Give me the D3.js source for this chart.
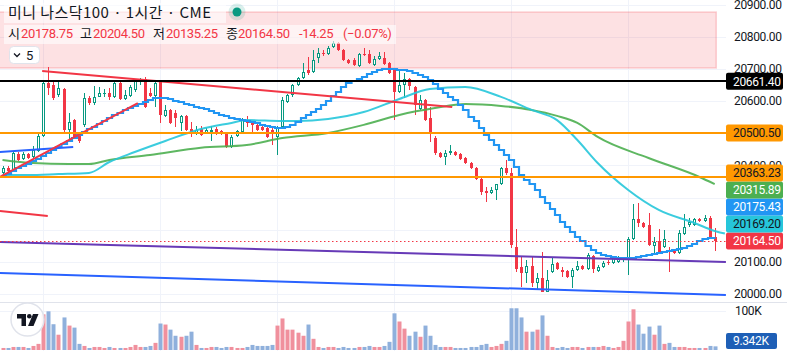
<!DOCTYPE html>
<html><head><meta charset="utf-8">
<script src="https://cdn.jsdelivr.net/npm/d3@7/dist/d3.min.js"></script>
<style>
html,body{margin:0;padding:0;background:#fff;}
svg{display:block;}
</style></head>
<body><div id="chart"></div>
<script>
// ---------------- DATA ----------------
const opens = [20376.5,20392,20382.5,20435.5,20420,20435.5,20426,20444.75,20491.5,20656.25,
20650,20619,20637.5,20510,20541.25,20491.5,20525.75,20609.5,20594,20612.75,
20622,20625.25,20612.75,20656.25,20606.5,20615.75,20634.5,20659.5,20668.75,20625.25,
20615.75,20659.5,20553.5,20572.25,20563,20531.75,20553.5,20513.25,20500.75,20513.25,
20500.75,20504,20513.25,20507,20500.75,20457.25,20491.5,20504,20541.25,20535,
20525.75,20519.5,20516.25,20510,20488.25,20519.5,20597.25,20619,20650,20671.75,
20696.75,20690.5,20734,20749.5,20746.5,20768.25,20780.75,20759,20727.75,20727.75,
20709.25,20746.5,20746.5,20712.25,20731,20734,20718.5,20699.75,20628.25,20650,
20668.75,20644,20575.5,20603.5,20547.5,20485.25,20438.5,20426,20438.5,20441.75,
20435.5,20423,20407.5,20392,20357.75,20320.5,20314.25,20323.5,20342.25,20392,
20376.5,20146.25,20084,20065.5,20087,20034.25,20049.75,20006.25,20068.5,20096.5,
20074.75,20071.5,20053,20074.75,20087,20077.75,20118.25,20071.5,20084,20099.5,
20096.5,20099.5,20105.75,20105.75,20171,20233.25,20221,20214.75,20149.5,20165,
20146.25,20133.75,20137,20127.5,20186.75,20214.75,20214.75,20233.25,20227,20236.5,
20178.75];
const highs = [20398,20398,20444.75,20441.75,20441.75,20438.5,20460.25,20497.75,20659.5,20706,
20659.5,20665.5,20640.75,20563,20544.25,20494.5,20625.25,20615.75,20647,20644,
20637.5,20640.75,20659.5,20659.5,20634.5,20650,20668.75,20671.75,20675,20640.75,
20659.5,20662.5,20588,20575.5,20572.25,20556.75,20556.75,20535,20522.5,20522.5,
20516.25,20522.5,20519.5,20510,20504,20494.5,20510,20547.5,20553.5,20538,
20528.75,20525.75,20519.5,20516.25,20522.5,20612.75,20622,20653.25,20675,20718.5,
20737,20759,20765,20759,20771.25,20787,20783.75,20762,20731,20734,
20749.5,20765,20759,20740.25,20752.75,20752.75,20721.5,20703,20699.75,20687.5,
20671.75,20647,20619,20606.5,20581.5,20491.5,20441.75,20448,20463.5,20444.75,
20438.5,20426,20410.5,20395,20360.75,20332.75,20332.75,20342.25,20395,20416.75,
20392,20202.25,20115,20105.75,20115,20065.5,20130.75,20074.75,20112,20099.5,
20084,20074.75,20081,20102.75,20090.25,20127.5,20121.25,20090.25,20102.75,20105.75,
20118.25,20118.25,20115,20177.25,20280,20283,20224,20252,20177.25,20202.25,
20199,20146.25,20140,20199,20249,20236.5,20236.5,20236.5,20245.75,20242.75,
20204.5];
const lows = [20370,20379.5,20380,20413.75,20416.75,20420,20423,20441.75,20488.25,20619,
20603.5,20612.75,20504,20479,20482,20469.75,20519.5,20588,20588,20612.75,
20612.75,20603.5,20609.5,20603.5,20603.5,20612.75,20628.25,20650,20578.5,20612.75,
20581.5,20531.75,20550.5,20528.75,20519.5,20507,20507,20488.25,20494.5,20491.5,
20497.75,20476,20494.5,20494.5,20454,20454,20488.25,20500.75,20519.5,20500.75,
20507,20507,20485.25,20463.5,20432.5,20516.25,20594,20612.75,20647,20668.75,
20681.25,20687.5,20718.5,20740.25,20743.5,20765,20755.75,20724.75,20715.5,20709.25,
20706,20740.25,20715.5,20709.25,20727.75,20712.25,20684.25,20541.25,20625.25,20609.5,
20634.5,20556.75,20572.25,20538,20472.75,20432.5,20423,20401.25,20432.5,20429.25,
20416.75,20404.5,20388.75,20354.5,20308,20286.25,20311,20292.5,20339,20370.25,
20143.25,20068.5,20021.75,20034.25,20021.75,20012.5,20005,20005,20065.5,20074.75,
20053,20049.75,20018.75,20071.5,20074.75,20074.75,20065.5,20068.5,20081,20090.25,
20093.5,20096.5,20099.5,20059.25,20168,20208.5,20205.25,20149.5,20127.5,20124.5,
20143.25,20068.5,20124.5,20124.5,20183.5,20208.5,20211.5,20224,20224,20174.25,
20135.25];
const closes = [20392,20382.5,20438.5,20416.75,20435.5,20423,20448,20491.5,20656.25,20640.75,
20609.5,20640.75,20510,20535,20488.25,20476,20609.5,20594,20612.75,20625.25,
20625.25,20612.75,20656.25,20606.5,20619,20644,20665.5,20668.75,20581.5,20615.75,
20656.25,20556.75,20572.25,20531.75,20547.5,20553.5,20510,20504,20510,20494.5,
20510,20510,20504,20500.75,20457.25,20488.25,20507,20541.25,20531.75,20525.75,
20510,20510,20488.25,20500.75,20519.5,20603.5,20619,20650,20671.75,20690.5,
20687.5,20727.75,20749.5,20746.5,20765,20780.75,20759,20727.75,20718.5,20712.25,
20746.5,20743.5,20718.5,20731,20740.25,20715.5,20687.5,20628.25,20650,20668.75,
20647,20588,20603.5,20541.25,20504,20438.5,20426,20438.5,20444.75,20432.5,
20420,20407.5,20392,20357.75,20317.25,20314.25,20323.5,20342.25,20392,20376.5,
20152.5,20077.75,20065.5,20087,20034.25,20049.75,20006.25,20043.5,20093.5,20077.75,
20068.5,20053,20074.75,20087,20077.75,20121.25,20077.75,20084,20096.5,20096.5,
20112,20112,20112,20171,20233.25,20221,20208.5,20152.5,20161.75,20127.5,
20171,20130.75,20127.5,20189.75,20208.5,20224,20233.25,20227,20236.5,20178.75,
20164.5];
// volume in thousands
const volumes = [5.2,5.2,7.8,7.8,7.8,5.2,10.4,15.7,91.4,99.2,
66.1,39.2,83.5,62.6,57.4,15.7,10.4,5.2,7.8,7.8,
5.2,7.8,5.2,5.2,5.2,7.8,13,7.8,7.8,10.4,
18.3,67.9,65.3,52.2,36.5,33.9,36.5,47,13,5.2,
5.2,7.8,7.8,5.2,7.8,7.8,5.2,5.2,7.8,13,
10.4,10.4,10.4,13,62.6,80.9,52.2,52.2,44.4,36.5,
65.3,28.7,7.8,5.2,7.8,7.8,5.2,7.8,5.2,5.2,
7.8,7.8,10.4,7.8,7.8,10.4,20.9,94,73.1,54.8,
36.5,47,33.9,62.6,36.5,13,7.8,7.8,7.8,5.2,
5.2,5.2,7.8,7.8,13,15.7,7.8,10.4,15.7,23.5,
107,107,83.5,47,47,52.2,88.7,36.5,7.8,5.2,
7.8,5.2,7.8,7.8,5.2,7.8,7.8,7.8,10.4,7.8,
5.2,7.8,23.5,73.1,104.4,65.3,41.8,60,39.2,62.6,
15.7,18.3,7.8,7.8,7.8,5.2,5.2,5.2,5.2,10.4,
9.342];
// stepped indicator (blue)
const stepLine = [20367,20373,20382.5,20392,20398,20404.5,20413.5,20420,20429,20438.5,
20448,20457,20466.5,20476,20485,20494.5,20504,20513,20519.5,20529,
20538,20547.5,20557,20563,20572.5,20578.5,20585,20591,20597,20603.5,
20609.5,20609.5,20609.5,20606.5,20600.5,20597,20591,20588,20581.5,20578.5,
20575.5,20569.5,20563,20557,20554,20547.5,20544.5,20541,20538,20535,
20532,20525.5,20522.5,20519.5,20516.5,20516.5,20519.5,20525.5,20535,20547.5,
20557,20566,20575.5,20588,20600.5,20616,20628.5,20644,20656.5,20662.5,
20668.5,20675,20684.5,20690.5,20696.5,20699.5,20699.5,20699.5,20696.5,20696.5,
20693.5,20687.5,20681,20675,20665.5,20653,20637.5,20625,20612.5,20603.5,
20588,20572.5,20550.5,20538,20516.5,20494.5,20479,20463.5,20448,20432.5,
20417,20395,20370,20354.5,20342,20323.5,20301.5,20283,20264.5,20245.5,
20224,20208.5,20193,20177.5,20165,20149.5,20137,20127.5,20121.5,20118.5,
20115,20112,20112,20112,20112,20115,20118.5,20121.5,20124.5,20127.5,
20130.5,20134,20137,20140,20143,20149.5,20155.5,20165,20171,20174,
20175.43];
// moving averages (sampled at candle index)
const cyanIdx = [0,5,11,17,21,26,32,39,45,48,55,58,64,71,78,84,91,98,104,109,113,117,123,129,136,140,142];
const cyanVal = [20370,20370,20373,20376.5,20410.5,20441.5,20476,20513,20532,20541,20538,20538,20544.5,20566,20606.5,20637.5,20644,20613,20572.5,20541,20479,20407.5,20323.5,20261.5,20221,20196,20188];
const greenIdx = [0,6,13,17,21,29,39,48,55,64,71,78,85,91,98,104,109,113,117,127,137,140];
const greenVal = [20417,20407.5,20404.5,20404.5,20417,20432.5,20455,20463.5,20485,20501,20526,20557,20578.5,20591,20585,20572.5,20554,20532,20488.5,20423,20364,20342];
// drawings: [startIndex, startPrice, endIndex, endPrice]
const redShortLine = [-0.5,20258.2,8.9,20242.6];
const redLongLine = [7.8,20693.6,88.4,20581.6];
const redRiseLine = [-0.5,20364,26.6,20594];
const blueShortLine = [-0.5,20441.7,13.9,20457.2];
const purpleLine = [-0.5,20161.8,142.2,20099.6];
const blueLongLine = [-0.5,20065.5,142.2,19997];
const zoneRect = [-1,20877,140.3,20703];
const levelBlack = 20661.40;
const levelOrange = [20500.50,20363.23];
const lastValues = {green:20315.89, step:20175.43, cyan:20169.20, close:20164.50};
const lastVolume = 9.342;
const dayStarts = [8,31,54,77,100,123];
const priceTicks = [20000,20100,20200,20300,20400,20500,20600,20700,20800,20900];
const volTicks = [100];

// ---------------- LAYOUT ----------------
const W=787,H=351, plotR=726, paneSep=302;
const UP='#089981', DN='#f23645', TXT='#131722', GRID='#f0f3fa';
const x=d3.scaleLinear().domain([0,140]).range([2.5,714.7]);
const y=d3.scaleLinear().domain([20000,20900]).range([294,4.65]);
const yv=d3.scaleLinear().domain([0,100]).range([350,311]);
const axisFont="Roboto, 'Liberation Sans', sans-serif";
const krFont="'Noto Sans CJK KR', 'Noto Sans', sans-serif";

const svg=d3.select('#chart').append('svg').attr('width',W).attr('height',H)
  .style('background','#fff');
const defs=svg.append('defs');
defs.append('clipPath').attr('id','pc').append('rect').attr('x',0).attr('y',0).attr('width',plotR).attr('height',paneSep);
defs.append('clipPath').attr('id','vc').append('rect').attr('x',0).attr('y',paneSep+1).attr('width',plotR).attr('height',H-paneSep);

// grid
const g0=svg.append('g');
g0.selectAll('line.h').data(priceTicks).join('line')
  .attr('x1',0).attr('x2',plotR).attr('y1',d=>Math.round(y(d))+0.5).attr('y2',d=>Math.round(y(d))+0.5)
  .attr('stroke',GRID).attr('stroke-width',1);
g0.selectAll('line.v').data(dayStarts).join('line')
  .attr('x1',d=>Math.round(x(d))+0.5).attr('x2',d=>Math.round(x(d))+0.5).attr('y1',0).attr('y2',H)
  .attr('stroke',GRID).attr('stroke-width',1);
g0.selectAll('line.vv').data(volTicks).join('line')
  .attr('x1',0).attr('x2',plotR).attr('y1',d=>Math.round(yv(d))+0.5).attr('y2',d=>Math.round(yv(d))+0.5)
  .attr('stroke',GRID).attr('stroke-width',1);
svg.append('line').attr('x1',0).attr('x2',W).attr('y1',paneSep+0.5).attr('y2',paneSep+0.5).attr('stroke','#e0e3eb');

const gp=svg.append('g').attr('clip-path','url(#pc)');
// zone rectangle
gp.append('rect').attr('x',x(zoneRect[0])).attr('y',y(zoneRect[1]))
  .attr('width',x(zoneRect[2])-x(zoneRect[0])).attr('height',y(zoneRect[3])-y(zoneRect[1]))
  .attr('fill','rgba(242,54,69,0.15)').attr('stroke','rgba(242,54,69,0.22)').attr('stroke-width',1.5);

// candles
const idx=d3.range(opens.length);
const gc=gp.append('g');
idx.forEach(i=>{
  const cx=Math.round(x(i));
  const o=opens[i],c=closes[i],up=c>=o;
  const col=up?UP:DN;
  gc.append('line').attr('x1',cx+0.5).attr('x2',cx+0.5)
    .attr('y1',Math.round(y(highs[i]))).attr('y2',Math.round(y(lows[i])))
    .attr('stroke',col).attr('stroke-width',1);
  const top=Math.round(y(Math.max(o,c))), bot=Math.round(y(Math.min(o,c)));
  const h=Math.max(1,bot-top);
  if(up && h>2){
    gc.append('rect').attr('x',cx-0.5).attr('y',top+0.5).attr('width',2).attr('height',h-1)
      .attr('fill','#fff').attr('stroke',col).attr('stroke-width',1);
  } else {
    gc.append('rect').attr('x',cx-1).attr('y',top).attr('width',3).attr('height',h).attr('fill',col);
  }
});

// volume
const gv=svg.append('g').attr('clip-path','url(#vc)');
gv.selectAll('rect').data(idx).join('rect')
  .attr('x',i=>Math.round(x(i))-1.5).attr('width',4)
  .attr('y',i=>yv(volumes[i])).attr('height',i=>yv(0)-yv(volumes[i]))
  .attr('fill',i=>closes[i]>=opens[i]?'#f0909d':'#8fb0dc');

// indicators
const lineMA=d3.line().x(d=>x(d[0])).y(d=>y(d[1])).curve(d3.curveMonotoneX);
gp.append('path').datum(greenIdx.map((d,k)=>[d,greenVal[k]])).attr('d',lineMA)
  .attr('fill','none').attr('stroke','#4caf50').attr('stroke-width',2).attr('opacity',0.9);
gp.append('path').datum(cyanIdx.map((d,k)=>[d,cyanVal[k]])).attr('d',lineMA)
  .attr('fill','none').attr('stroke','#26c6da').attr('stroke-width',2).attr('opacity',0.9);
const stepGen=d3.line().x((d,i)=>Math.round(x(i))+0.5).y(d=>Math.round(y(d))).curve(d3.curveStep);
gp.append('path').datum(stepLine).attr('d',stepGen)
  .attr('fill','none').attr('stroke','#2196f3').attr('stroke-width',2.2);

// drawings
function seg(a,col,w){
  gp.append('line').attr('x1',x(a[0])).attr('y1',y(a[1])).attr('x2',x(a[2])).attr('y2',y(a[3]))
    .attr('stroke',col).attr('stroke-width',w||2);
}
seg(purpleLine,'#673ab7');
seg(blueLongLine,'#2962ff');
seg(blueShortLine,'#2962ff');
seg(redShortLine,'#f23645');
seg(redLongLine,'#f23645');
seg(redRiseLine,'#f23645');
function hline(p,col){
  const yy=Math.round(y(p));
  gp.append('line').attr('x1',0).attr('x2',plotR).attr('y1',yy).attr('y2',yy).attr('stroke',col).attr('stroke-width',2);
}
hline(levelBlack,'#000');
levelOrange.forEach(p=>hline(p,'#ff9800'));
// last price dotted line
gp.append('line').attr('x1',0).attr('x2',plotR)
  .attr('y1',Math.round(y(lastValues.close))+0.5).attr('y2',Math.round(y(lastValues.close))+0.5)
  .attr('stroke',DN).attr('stroke-width',1).attr('stroke-dasharray','1.5,2.5');

// axis panel bg
svg.append('rect').attr('x',plotR).attr('y',0).attr('width',W-plotR).attr('height',H).attr('fill','#fff');
svg.append('line').attr('x1',plotR).attr('x2',W).attr('y1',paneSep+0.5).attr('y2',paneSep+0.5).attr('stroke','#e0e3eb');

// value labels (stacked so they do not collide)
const labs=[
  {v:levelBlack,bg:'#000000',fg:'#ffffff'},
  {v:levelOrange[0],bg:'#ff9800',fg:TXT},
  {v:levelOrange[1],bg:'#ff9800',fg:TXT},
  {v:lastValues.green,bg:'#4caf50',fg:'#ffffff'},
  {v:lastValues.step,bg:'#2196f3',fg:'#ffffff'},
  {v:lastValues.cyan,bg:'#26c6da',fg:TXT},
  {v:lastValues.close,bg:DN,fg:'#ffffff'}
];
labs.forEach(d=>d.ny=y(d.v));
labs.sort((a,b)=>b.ny-a.ny);
let prev=1e9;
labs.forEach(d=>{d.py=Math.min(d.ny,prev-17);prev=d.py;});
const covered=yy=>labs.some(d=>yy>=d.py-8.5 && yy<=d.py+8.5);

// tick labels (hidden when fully covered by a value label)
const ga=svg.append('g').attr('font-family',axisFont).attr('font-size',12).attr('fill',TXT).attr('letter-spacing','-0.35px');
ga.selectAll('text.t').data(priceTicks.filter(d=>!(covered(y(d)-4.5)&&covered(y(d)+4.5)))).join('text')
  .attr('x',734).attr('y',d=>y(d)+4.3).text(d=>d3.format('.2f')(d));
ga.selectAll('text.v').data(volTicks).join('text')
  .attr('x',735).attr('y',d=>yv(d)+4.3).text(d=>d+'K');

labs.forEach(d=>{
  ga.append('rect').attr('x',plotR).attr('y',d.py-8.5).attr('width',57).attr('height',17).attr('rx',2).attr('fill',d.bg);
  ga.append('text').attr('x',733).attr('y',d.py+4.3).attr('fill',d.fg).text(d3.format('.2f')(d.v));
});
ga.append('rect').attr('x',plotR).attr('y',333).attr('width',51).attr('height',16).attr('rx',2).attr('fill','#1e5fb6');
ga.append('text').attr('x',733).attr('y',345.3).attr('fill','#fff').text(d3.format('.3f')(lastVolume)+'K');

// legend
const gl=svg.append('g');
gl.append('rect').attr('x',4).attr('y',3).attr('width',222).attr('height',20).attr('fill','rgba(255,255,255,0.6)');
gl.append('rect').attr('x',4).attr('y',25).attr('width',392).attr('height',19).attr('fill','rgba(255,255,255,0.6)');
gl.append('text').attr('x',8).attr('y',17.5).attr('font-family',krFont).attr('font-size',15).attr('fill',TXT)
  .attr('textLength',203).attr('lengthAdjust','spacing').text('미니 나스닥100 · 1시간 · CME');
gl.append('circle').attr('cx',237).attr('cy',12).attr('r',8.5).attr('fill','rgba(8,153,129,0.15)');
gl.append('circle').attr('cx',237).attr('cy',12).attr('r',4.5).attr('fill',UP);
const last=opens.length-1;
const chg=closes[last]-closes[last-1];
const pct=chg/closes[last-1]*100;
const f2=d3.format('.2f');
const segs=[
  {t:'시',x:8,k:1},{t:f2(opens[last]),x:21},
  {t:'고',x:80,k:1},{t:f2(highs[last]),x:93},
  {t:'저',x:153,k:1},{t:f2(lows[last]),x:166},
  {t:'종',x:226,k:1},{t:f2(closes[last]),x:238},
  {t:(chg<0?'-':'+')+f2(Math.abs(chg)),x:299},
  {t:'('+(pct<0?'−':'+')+f2(Math.abs(pct))+'%)',x:343}
];
segs.forEach(s=>{
  gl.append('text').attr('x',s.x).attr('y',37.5)
    .attr('font-family',s.k?krFont:axisFont).attr('font-size',13)
    .attr('letter-spacing',s.k?'0px':'-0.35px')
    .attr('fill',s.k?TXT:DN).text(s.t);
});
gl.append('rect').attr('x',9.5).attr('y',46.5).attr('width',30).attr('height',17).attr('rx',4)
  .attr('fill','#fff').attr('stroke','#e0e3eb');
gl.append('path').attr('d','M14,53.5 L17,56.5 L20,53.5').attr('fill','none').attr('stroke',TXT).attr('stroke-width',1.3);
gl.append('text').attr('x',26).attr('y',59.5).attr('font-family',axisFont).attr('font-size',13).attr('fill',TXT).text('5');

// logo
const lg=svg.append('g');
lg.append('circle').attr('cx',27.5).attr('cy',319.5).attr('r',16.5).attr('fill','rgba(255,255,255,0.9)').attr('stroke','#e0e3eb').attr('stroke-width',1.5);
lg.append('path').attr('d','M17,314 H26 V326 H21.5 V318.5 H17 Z').attr('fill',TXT);
lg.append('circle').attr('cx',29.3).attr('cy',316.3).attr('r',2.3).attr('fill',TXT);
lg.append('path').attr('d','M33,314 H38.5 L33.5,326 H28 Z').attr('fill',TXT);
</script>
</body></html>
